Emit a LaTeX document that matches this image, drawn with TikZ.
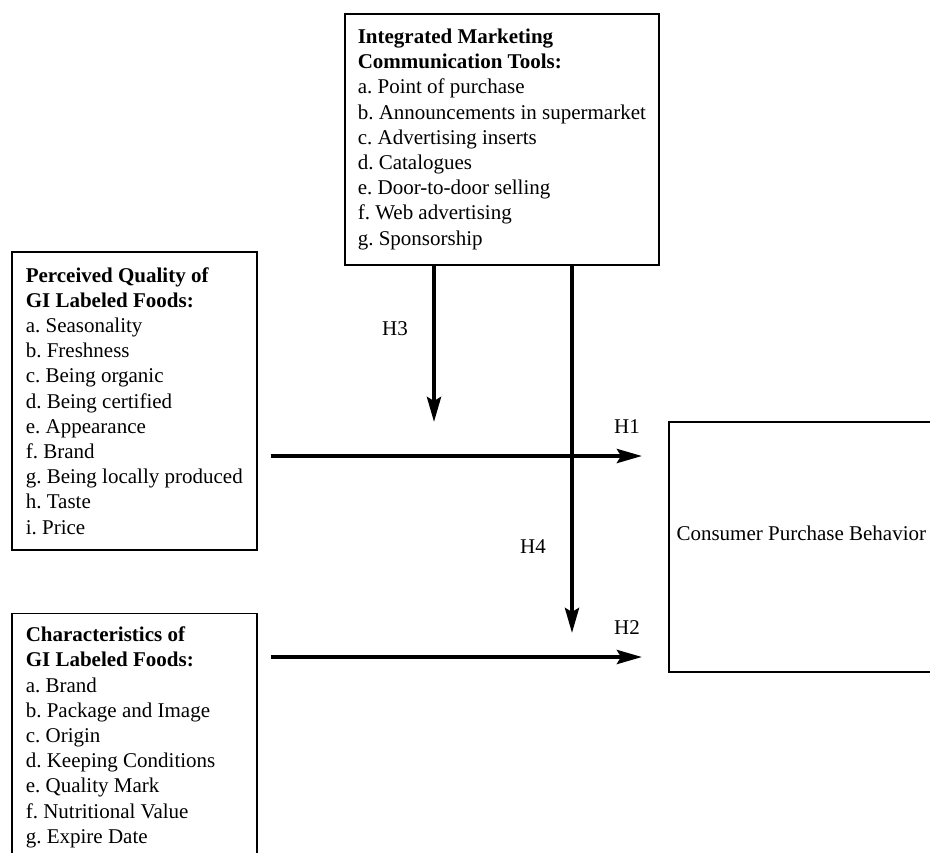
\documentclass[tikz,border=0pt]{standalone}
\usepackage{fontspec}
\setmainfont{Liberation Serif}
\usetikzlibrary{arrows.meta, positioning}

\begin{document}
\begin{tikzpicture}[x=0.5pt, y=-0.5pt,
    box/.style={draw, line width=0.8pt, align=flush left, inner xsep=6.5pt, anchor=north west,
                font=\fontsize{10.5}{12.6}\selectfont\frenchspacing},
    hyp/.style={-{Stealth[length=12.5pt, width=7pt, inset=2pt]}, line width=2pt},
    lbl/.style={font=\fontsize{10.5}{12.6}\selectfont}]
  \useasboundingbox (0,0) rectangle (930,852);
  \clip (0,0) rectangle (930,852);

  \node[box, minimum height=125.5pt] (imc) at (344,13)
    {\textbf{Integrated Marketing}\\ \textbf{Communication Tools:}\\ a. Point of purchase\\
     b. Announcements in supermarket\\ c. Advertising inserts\\ d. Catalogues\\
     e. Door-to-door selling\\ f. Web advertising\\ g. Sponsorship};
  \node[box, inner xsep=7pt, minimum height=149pt] (quality) at (11,251)
    {\textbf{Perceived Quality of}\\ \textbf{GI Labeled Foods:}\\ a. Seasonality\\ b. Freshness\\
     c. Being organic\\ d. Being certified\\ e. Appearance\\ f. Brand\\
     g. Being locally produced\\ h. Taste\\ i. Price};
  \node[box, text width=108.5pt, inner xsep=7pt, minimum height=124pt,
        below=31pt of quality.south west, anchor=north west] (charac)
    {\textbf{Characteristics of}\\ \textbf{GI Labeled Foods:}\\ a. Brand\\ b. Package and Image\\
     c. Origin\\ d. Keeping Conditions\\ e. Quality Mark\\ f. Nutritional Value\\ g. Expire Date};
  \node[box, align=center, minimum width=132.5pt, minimum height=125pt, inner xsep=2.5pt, text depth=14pt] (behavior) at (668,421)
    {Consumer Purchase Behavior};

  \coordinate (h1) at (0,456);
  \coordinate (h2) at (0,657);
  \coordinate (h3end) at (434,422);
  \coordinate (h4end) at (572,633);

  \draw[hyp] ([xshift=6.5pt]quality.east |- h1) -- ([xshift=-13pt]behavior.west |- h1);
  \draw[hyp] ([xshift=6.5pt]charac.east |- h2) -- ([xshift=-13pt]behavior.west |- h2);
  \draw[hyp] (imc.south -| h3end) -- (h3end);
  \draw[hyp] (imc.south -| h4end) -- (h4end);

  \node[lbl] (h1lbl) at (627,427) {H1};
  \node[lbl] (h2lbl) at (627,628) {H2};
  \node[lbl] (h3lbl) at (395,329) {H3};
  \node[lbl] (h4lbl) at (533,547) {H4};
\end{tikzpicture}
\end{document}
